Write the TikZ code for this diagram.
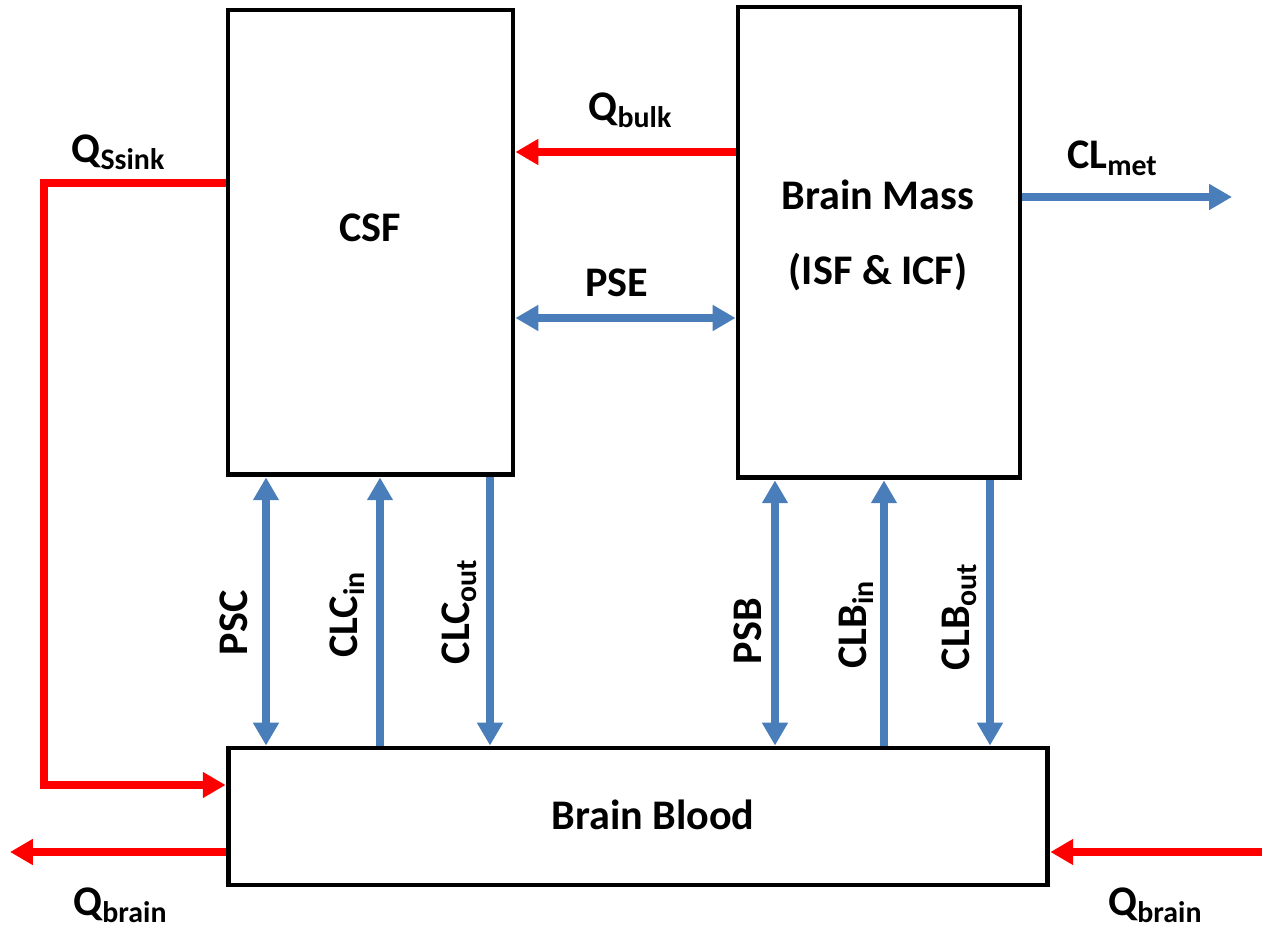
\documentclass[tikz,border=0pt]{standalone}
\usepackage{fontspec}
\setmainfont{Carlito}
\usetikzlibrary{arrows.meta,calc}
\definecolor{arblue}{HTML}{4A7EBB}
\definecolor{arred}{HTML}{FF0000}
\newcommand\sbx[1]{\raisebox{-0.35ex}{\fontsize{17}{17}\selectfont #1}}
\tikzset{
  box/.style={draw=black,line width=2.8pt,fill=white,inner sep=0pt},
  lbl/.style={font=\bfseries\fontsize{24}{28}\selectfont,inner sep=0pt},
  bluearr/.style={draw=arblue,line width=4pt,-{Triangle[length=13pt,width=14pt]}},
  bluedbl/.style={draw=arblue,line width=4pt,{Triangle[length=13pt,width=14pt]}-{Triangle[length=13pt,width=14pt]}},
  redarr/.style={draw=arred,line width=4pt,-{Triangle[length=13pt,width=14pt]}}
}
\begin{document}
\begin{tikzpicture}[x=0.02cm,y=-0.02cm]
\useasboundingbox (0,0) rectangle (1269,928);
% boxes
\node[box,minimum width=5.7cm,minimum height=9.3cm] (csf) at (370.5,242.5) {};
\node[box,minimum width=5.64cm,minimum height=9.42cm] (mass) at (879,242.5) {};
\node[box,minimum width=16.4cm,minimum height=2.74cm] (blood) at (638,816.5) {};
% box texts
\node[lbl] (csft) at (370,228) {CSF};
\node[lbl] (masst1) at (878,195) {Brain Mass};
\node[lbl] (masst2) at (878,272) {(ISF \& ICF)};
\node[lbl] (bloodt) at (653,815) {Brain Blood};
% helper coordinates
\coordinate (yb) at (0,152);
\coordinate (ys) at (0,183);
\coordinate (ym) at (0,197);
\coordinate (ye) at (0,318);
\coordinate (yl) at (0,785);
\coordinate (yq) at (0,852);
\coordinate (xs) at (44,0);
\coordinate (qlend) at (10,852);
\coordinate (qrstart) at (1262,852);
\coordinate (metend) at (1232,197);
\coordinate (x1) at (266,0);
\coordinate (x2) at (380,0);
\coordinate (x3) at (490,0);
\coordinate (x4) at (775,0);
\coordinate (x5) at (884,0);
\coordinate (x6) at (990,0);
% red flows
\draw[redarr] (mass.west |- yb) -- (csf.east |- yb);
\draw[redarr] (csf.west |- ys) -- (xs |- ys) -- (xs |- yl) -- (blood.west |- yl);
\draw[redarr] (blood.west |- yq) -- (qlend);
\draw[redarr] (qrstart) -- (blood.east |- yq);
% blue flows
\draw[bluearr] (mass.east |- ym) -- (metend);
\draw[bluedbl] (csf.east |- ye) -- (mass.west |- ye);
\draw[bluedbl] (csf.south -| x1) -- (blood.north -| x1);
\draw[bluearr] (blood.north -| x2) -- (csf.south -| x2);
\draw[bluearr] (csf.south -| x3) -- (blood.north -| x3);
\draw[bluedbl] (mass.south -| x4) -- (blood.north -| x4);
\draw[bluearr] (blood.north -| x5) -- (mass.south -| x5);
\draw[bluearr] (mass.south -| x6) -- (blood.north -| x6);
% labels
\node[lbl] (lss) at (118,152) {Q\sbx{Ssink}};
\node[lbl] (lbulk) at (630,110) {Q\sbx{bulk}};
\node[lbl] (lmet) at (1112,158) {CL\sbx{met}};
\node[lbl] (lpse) at (617,283) {PSE};
\node[lbl,rotate=90] (lpsc) at (234,623) {PSC};
\node[lbl,rotate=90] (lclcin) at (347,615) {CLC\sbx{in}};
\node[lbl,rotate=90] (lclcout) at (459,612) {CLC\sbx{out}};
\node[lbl,rotate=90] (lpsb) at (748,631) {PSB};
\node[lbl,rotate=90] (lclbin) at (856,625) {CLB\sbx{in}};
\node[lbl,rotate=90] (lclbout) at (959,617) {CLB\sbx{out}};
\node[lbl] (lqbl) at (120,905) {Q\sbx{brain}};
\node[lbl] (lqbr) at (1155,905) {Q\sbx{brain}};
\end{tikzpicture}
\end{document}
